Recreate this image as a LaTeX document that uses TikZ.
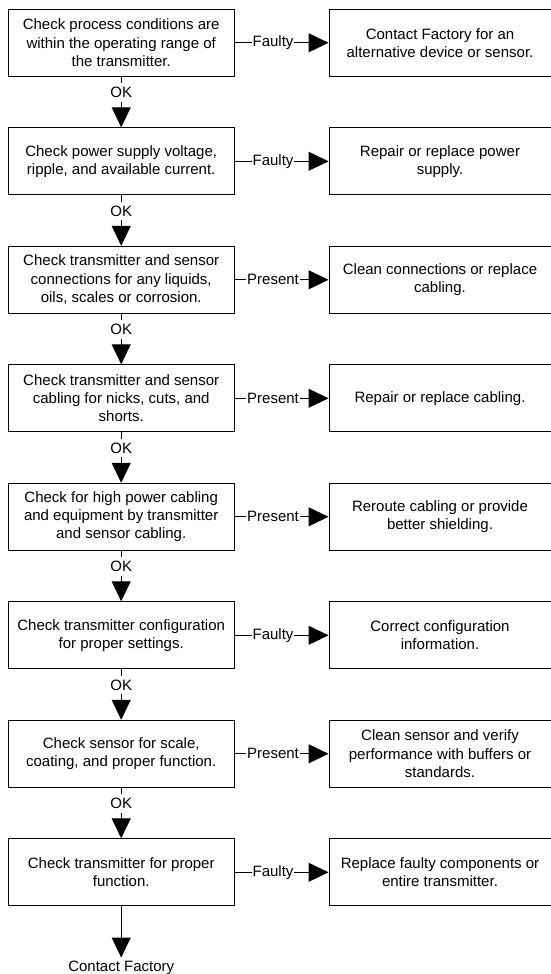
\documentclass[tikz,border=0pt]{standalone}
\usepackage{fontspec}
\setmainfont{Liberation Sans}
\usetikzlibrary{arrows.meta}
\begin{document}
\begin{tikzpicture}[x=1pt,y=1pt,
  box/.style={draw=black, line width=1pt, minimum width=225.7pt, minimum height=67pt,
    align=center, inner sep=0pt, font=\fontsize{15}{18.3}\selectfont},
  rbox/.style={box, minimum width=222pt},
  lbl/.style={fill=white, inner xsep=1pt, inner ysep=4pt, font=\fontsize{15}{18}\selectfont},
  arr/.style={line width=1pt, -{Triangle[length=20pt,width=19pt]}}]
\useasboundingbox (0,0) rectangle (551,-974);
\fill[white] (0,0) rectangle (551,-974);

\node[box] (c1) at (121.2,-42.8) {Check process conditions are\\within the operating range of\\the transmitter.};
\node[box] (c2) at (121.2,-161.3) {Check power supply voltage,\\ripple, and available current.};
\node[box] (c3) at (121.2,-279.8) {Check transmitter and sensor\\connections for any liquids,\\oils, scales or corrosion.};
\node[box] (c4) at (121.2,-398.3) {Check transmitter and sensor\\cabling for nicks, cuts, and\\shorts.};
\node[box] (c5) at (121.2,-516.8) {Check for high power cabling\\and equipment by transmitter\\and sensor cabling.};
\node[box] (c6) at (121.2,-635.3) {Check transmitter configuration\\for proper settings.};
\node[box] (c7) at (121.2,-753.8) {Check sensor for scale,\\coating, and proper function.};
\node[box] (c8) at (121.2,-872.3) {Check transmitter for proper\\function.};

\node[rbox] (a1) at (440,-42.8) {Contact Factory for an\\alternative device or sensor.};
\node[rbox] (a2) at (440,-161.3) {Repair or replace power\\supply.};
\node[rbox] (a3) at (440,-279.8) {Clean connections or replace\\cabling.};
\node[rbox] (a4) at (440,-398.3) {Repair or replace cabling.};
\node[rbox] (a5) at (440,-516.8) {Reroute cabling or provide\\better shielding.};
\node[rbox] (a6) at (440,-635.3) {Correct configuration\\information.};
\node[rbox] (a7) at (440,-753.8) {Clean sensor and verify\\performance with buffers or\\standards.};
\node[rbox] (a8) at (440,-872.3) {Replace faulty components or\\entire transmitter.};

\node[anchor=north, inner xsep=0pt, inner ysep=3pt, font=\fontsize{15}{18}\selectfont] (end) at (121.2,-957.5) {Contact Factory};

\draw[arr] (c1) -- node[lbl, pos=0.41] {Faulty} (a1);
\draw[arr] (c2) -- node[lbl, pos=0.41] {Faulty} (a2);
\draw[arr] (c3) -- node[lbl, pos=0.41] {Present} (a3);
\draw[arr] (c4) -- node[lbl, pos=0.41] {Present} (a4);
\draw[arr] (c5) -- node[lbl, pos=0.41] {Present} (a5);
\draw[arr] (c6) -- node[lbl, pos=0.41] {Faulty} (a6);
\draw[arr] (c7) -- node[lbl, pos=0.41] {Present} (a7);
\draw[arr] (c8) -- node[lbl, pos=0.41] {Faulty} (a8);

\draw[arr] (c1) -- node[lbl, pos=0.31] {OK} (c2);
\draw[arr] (c2) -- node[lbl, pos=0.31] {OK} (c3);
\draw[arr] (c3) -- node[lbl, pos=0.31] {OK} (c4);
\draw[arr] (c4) -- node[lbl, pos=0.31] {OK} (c5);
\draw[arr] (c5) -- node[lbl, pos=0.31] {OK} (c6);
\draw[arr] (c6) -- node[lbl, pos=0.31] {OK} (c7);
\draw[arr] (c7) -- node[lbl, pos=0.31] {OK} (c8);
\draw[arr] (c8) -- (end);
\end{tikzpicture}
\end{document}
